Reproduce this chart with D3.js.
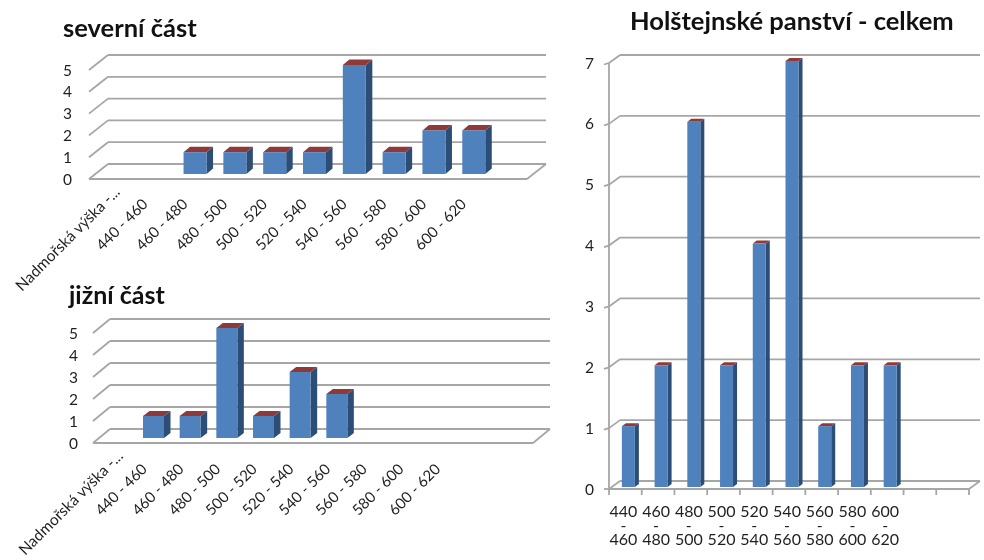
<!DOCTYPE html>
<html><head><meta charset="utf-8">
<script src="https://cdn.jsdelivr.net/npm/d3@7"></script>
<style>html,body{margin:0;padding:0;background:#fff}svg{display:block;filter:blur(0.5px)}text{font-family:Lato,"Open Sans",sans-serif}</style>
</head><body><svg id="c" width="984" height="560"></svg>
<script>
const ranges = ["440 - 460","460 - 480","480 - 500","500 - 520","520 - 540","540 - 560","560 - 580","580 - 600","600 - 620"];
const firstLabel = "Nadmořská výška -...";
const northValues = [0,1,1,1,1,5,1,2,2];
const southValues = [1,1,5,1,3,2,0,0,0];
const totalValues = [1,2,6,2,4,7,1,2,2];
const northTicks = [0,1,2,3,4,5];
const southTicks = [0,1,2,3,4,5];
const totalTicks = [0,1,2,3,4,5,6,7];
const titles = ["severní část","jižní část","Holštejnské panství - celkem"];

const svg = d3.select("#c");
const GRID="#a6a6a6", FRONT="#4f81bd", SIDE="#2c4d75", TOP="#8f3a38", INK="#1f1f1f";

function panel(o){
  const g = svg.append("g");
  const y = d3.scaleLinear().domain([0,d3.max(o.ticks)]).range([o.floor,o.top]);
  const x = d3.scaleBand().domain(d3.range(o.slots)).range([o.left,o.right]);
  const [dx,dy]=o.depth;
  const line=(a,b,c,d,w)=>g.append("line").attr("x1",a).attr("y1",b).attr("x2",c).attr("y2",d)
    .attr("stroke",GRID).attr("stroke-width",w||1.8);
  // walls and floor
  o.ticks.forEach(t=>{
    line(o.left,y(t),o.left+dx,y(t)+dy);
    line(o.left+dx,y(t)+dy,o.right+dx,y(t)+dy);
  });
  line(o.left,o.floor,o.right,o.floor);
  line(o.right,o.floor,o.right+dx,o.floor+dy);
  if(o.axis){
    line(o.left,o.floor,o.left,y(d3.max(o.ticks)));
    o.ticks.forEach(t=>line(o.left-5,y(t)+(t?1.5:0),o.left,y(t)));
    d3.range(o.slots+1).forEach(i=>{
      const px=o.left+i*x.step();
      line(px,o.floor,px,o.floor+6);
    });
  }
  // y labels
  g.selectAll(".yl").data(o.ticks).join("text")
    .attr("x",o.labelX).attr("y",d=>y(d)).attr("dy","0.36em")
    .attr("text-anchor","end").attr("fill",INK)
    .attr("font-size",o.tickFont).text(d=>d);
  // bars
  const [bx,by]=o.barShift, [sx,sy]=o.barDepth;
  const bars=o.values.map((v,i)=>({v,i:i+o.offset})).filter(d=>d.v>0);
  const cx=d=>x(d.i)+x.bandwidth()/2+bx;
  const pts=a=>a.map(p=>p.join(",")).join(" ");
  g.selectAll(".side").data(bars).join("polygon").attr("fill",SIDE).attr("points",d=>{
    const r=cx(d)+o.barW/2,t=y(d.v)+by,b=o.floor+by;
    return pts([[r,t],[r+sx,t+sy],[r+sx,b+sy],[r,b]]);
  });
  g.selectAll(".top").data(bars).join("polygon").attr("fill",TOP).attr("points",d=>{
    const l=cx(d)-o.barW/2,r=cx(d)+o.barW/2,t=y(d.v)+by;
    return pts([[l,t],[l+sx,t+sy],[r+sx,t+sy],[r,t]]);
  });
  g.selectAll(".front").data(bars).join("rect").attr("fill",FRONT)
    .attr("x",d=>cx(d)-o.barW/2).attr("width",o.barW)
    .attr("y",d=>y(d.v)+by).attr("height",d=>o.floor-y(d.v));
  // category labels
  if(o.stacked){
    o.cats.forEach((c,i)=>{
      const px=x(i+o.offset)+x.bandwidth()/2+o.catShift;
      const t=g.append("text").attr("y",o.catY).attr("text-anchor","middle")
        .attr("fill",INK).attr("font-size",o.catFont);
      c.split(" ").forEach((s,j)=>{
        t.append("tspan").attr("x",px).attr("y",o.catY+j*14).text(s);
      });
    });
  } else {
    o.cats.forEach((c,i)=>{
      const px=x(i)+x.bandwidth()/2+(i===0?o.firstShift[0]:0);
      const py=o.catY+(i===0?o.firstShift[1]:0);
      g.append("text").attr("transform",`translate(${px},${py}) rotate(-45)`)
        .attr("text-anchor","end").attr("fill",INK)
        .attr("font-size",i===0?15.5:o.catFont).text(c);
    });
  }
  svg.append("text").attr("x",o.titleX).attr("y",o.titleY).attr("font-weight",700)
    .attr("font-size",o.titleFont).attr("fill","#111").text(o.title);
}

panel({values:northValues,ticks:northTicks,cats:[firstLabel,...ranges],offset:1,slots:11,
  left:89,right:527,floor:179,top:70,depth:[19,-15],barShift:[6.5,-5],barDepth:[6.5,-5.5],barW:23,
  labelX:72,tickFont:15.5,catFont:15,catY:205,firstShift:[12,-12],
  title:titles[0],titleX:63,titleY:37,titleFont:25.5});
panel({values:southValues,ticks:southTicks,cats:[firstLabel,...ranges],offset:1,slots:12,
  left:93,right:533,floor:443,top:333,depth:[17,-14],barShift:[5.5,-5],barDepth:[6.5,-5],barW:21,
  labelX:78,tickFont:15.5,catFont:15,catY:470,firstShift:[12.7,-13],
  title:titles[1],titleX:69,titleY:304,titleFont:25});
panel({values:totalValues,ticks:totalTicks,cats:ranges,offset:0,slots:11,stacked:true,
  left:609,right:969,floor:489,top:63,depth:[11,-8],barShift:[3,-2],barDepth:[4,-3],barW:13,
  axis:true,labelX:594,tickFont:15.5,catFont:16,catY:517,catShift:-2,
  title:titles[2],titleX:630,titleY:30,titleFont:25.5});
</script></body></html>
